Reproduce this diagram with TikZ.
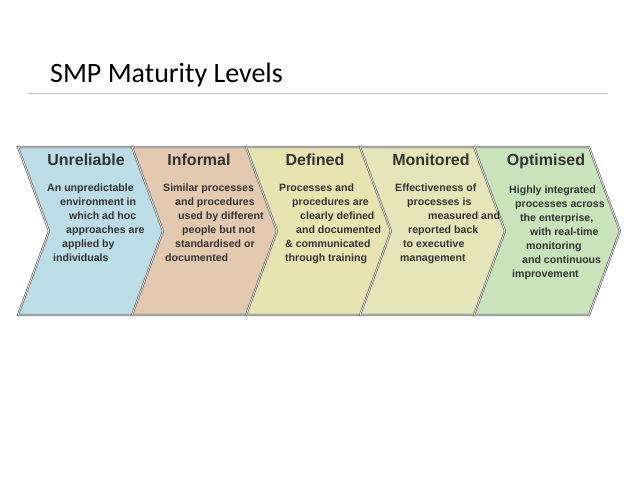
\documentclass[tikz,border=0pt]{standalone}
\usepackage{fontspec}
\setmainfont{Liberation Sans}
\newfontfamily\titlefont{Carlito}
\begin{document}
\begin{tikzpicture}[x=1pt,y=-1pt,
  chev/.style={draw=black!55,line width=0.8pt,double=white,double distance=0.6pt},
  head/.style={font=\bfseries\fontsize{16}{18}\selectfont,text=black!80},
  body/.style={anchor=west,font=\bfseries\fontsize{10.6}{12}\selectfont,text=black!80,inner sep=0pt,text height=8pt,text depth=2pt}]
\useasboundingbox (0,0) rectangle (638,479);
\definecolor{c1}{HTML}{BCDDE6}
\definecolor{c2}{HTML}{E4C9B1}
\definecolor{c3}{HTML}{E8E4B2}
\definecolor{c4}{HTML}{E4E6B9}
\definecolor{c5}{HTML}{C9E4BA}
\node[anchor=base west,font=\titlefont\fontsize{28}{32}\selectfont,inner sep=0pt] (title) at (50,82) {SMP Maturity Levels};
\draw[black!25,line width=0.8pt] (28,93) -- (608,93);
\foreach \i/\c in {0/c1,1/c2,2/c3,3/c4,4/c5}{
  \pgfmathsetmacro{\xa}{18+114*\i}
  \fill[\c] (\xa,147) -- ++(115,0) -- ++(31,84) -- ++(-31,84) -- ++(-115,0) -- ++(31,-84) -- cycle;
  \draw[chev] (\xa,147) -- ++(115,0) -- ++(31,84) -- ++(-31,84) -- ++(-115,0) -- ++(31,-84) -- cycle;
}
\node[head,text height=12pt,text depth=3pt] (h1) at (86,161) {Unreliable};
\node[head,text height=12pt,text depth=3pt] (h2) at (199,161) {Informal};
\node[head,text height=12pt,text depth=3pt] (h3) at (315,161) {Defined};
\node[head,text height=12pt,text depth=3pt] (h4) at (431,161) {Monitored};
\node[head,text height=12pt,text depth=3pt] (h5) at (546,161) {Optimised};
\foreach \x/\y/\t [count=\n] in {
 47/188/An unpredictable, 60/202/environment in, 69/216/which ad hoc, 66/230/approaches are, 62/244/applied by, 53/258/individuals,
 163/188/Similar processes, 175/202/and procedures, 178/216/used by different, 182/230/people but not, 175/244/standardised or, 165/258/documented,
 279/188/Processes and, 292/202/procedures are, 300/216/clearly defined, 296/230/and documented, 285/244/\& communicated, 285/258/through training,
 395/188/Effectiveness of, 407/202/processes is, 428/216/measured and, 408/230/reported back, 403/244/to executive, 400/258/management,
 509/190/Highly integrated, 515/204/processes across, 520/218/the enterprise{,}, 530/232/with real-time, 526/246/monitoring, 522/260/and continuous, 512/274/improvement}
 {\node[body] (b\n) at (\x,\y) {\t};}
\end{tikzpicture}
\end{document}
